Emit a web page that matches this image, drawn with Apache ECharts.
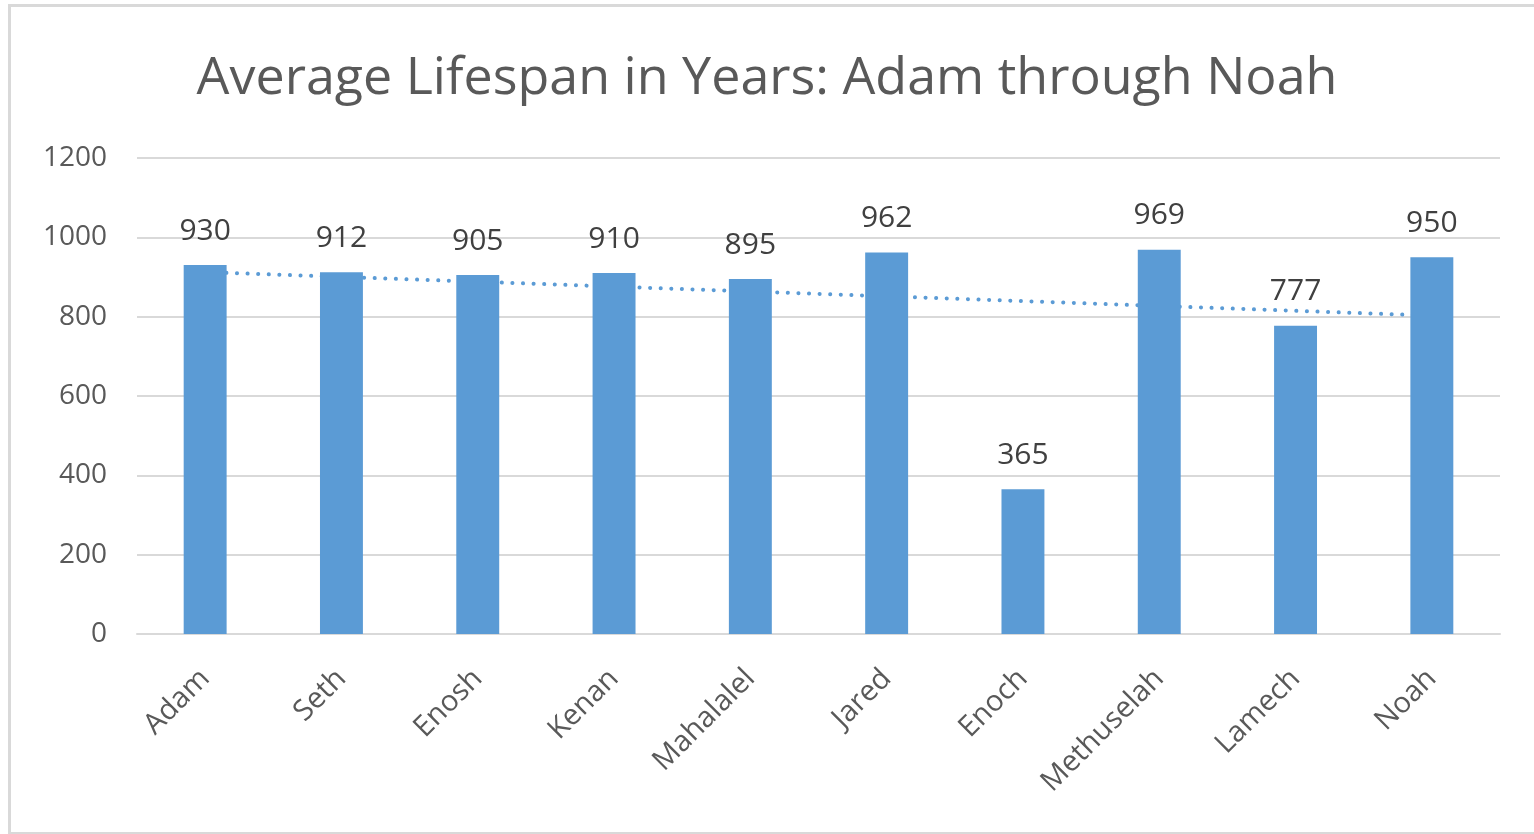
<!DOCTYPE html>
<html>
<head>
<meta charset="utf-8">
<script src="https://cdn.jsdelivr.net/npm/echarts@6/dist/echarts.min.js"></script>
<style>
  html, body { margin: 0; padding: 0; background: #fff; }
  #frame {
    position: absolute; left: 8px; top: 4px; width: 1540px; height: 825px;
    border-top: 3px solid #d9d9d9; border-left: 3px solid #d9d9d9; border-bottom: 3px solid #d9d9d9;
  }
  #chart { position: absolute; left: 0; top: 0; width: 1534px; height: 834px; }
</style>
</head>
<body>
<div id="frame"></div>
<div id="chart"></div>
<script>
const titleText = 'Average Lifespan in Years: Adam through Noah';
const patriarchs = ['Adam', 'Seth', 'Enosh', 'Kenan', 'Mahalalel', 'Jared', 'Enoch', 'Methuselah', 'Lamech', 'Noah'];
const lifespans = [930, 912, 905, 910, 895, 962, 365, 969, 777, 950];
const yTicks = [0, 200, 400, 600, 800, 1000, 1200];

// Least-squares linear trend over the category index
function linearTrend(values) {
  const n = values.length;
  const xs = values.map((_, i) => i + 1);
  const mx = xs.reduce((a, b) => a + b, 0) / n;
  const my = values.reduce((a, b) => a + b, 0) / n;
  let sxy = 0, sxx = 0;
  for (let i = 0; i < n; i++) {
    sxy += (xs[i] - mx) * (values[i] - my);
    sxx += (xs[i] - mx) * (xs[i] - mx);
  }
  const slope = sxy / sxx;
  return xs.map(x => my + slope * (x - mx));
}
const trend = linearTrend(lifespans);

const FONT = '"Open Sans", sans-serif';
const chart = echarts.init(document.getElementById('chart'));
chart.setOption({
  animation: false,
  title: {
    text: titleText,
    left: 'center',
    top: 48,
    textStyle: { fontFamily: FONT, fontSize: 52, fontWeight: 'normal', color: '#595959' }
  },
  grid: { left: 137, right: 34, top: 158, bottom: 200, containLabel: false },
  xAxis: {
    type: 'category',
    data: patriarchs,
    axisLine: { lineStyle: { color: '#d9d9d9', width: 2 } },
    axisTick: { show: false },
    axisLabel: { rotate: 45, fontFamily: FONT, fontSize: 29, color: '#595959', margin: 40, interval: 0 }
  },
  yAxis: {
    type: 'value',
    min: yTicks[0],
    max: yTicks[yTicks.length - 1],
    interval: 200,
    axisLine: { show: false },
    axisTick: { show: false },
    splitLine: { lineStyle: { color: '#d9d9d9', width: 2 } },
    axisLabel: { fontFamily: FONT, fontSize: 28, color: '#595959', margin: 30, formatter: v => String(v) }
  },
  series: [
    {
      type: 'line',
      data: trend,
      symbol: 'none',
      z: 1,
      lineStyle: { color: '#5b9bd5', width: 4, type: [0.1, 10.5], cap: 'round' },
      silent: true
    },
    {
      type: 'bar',
      data: lifespans,
      barWidth: '31.5%',
      z: 2,
      itemStyle: { color: '#5b9bd5' },
      label: { show: true, position: 'top', distance: 19, fontFamily: FONT, fontSize: 30, color: '#404040' }
    }
  ]
});
</script>
</body>
</html>
